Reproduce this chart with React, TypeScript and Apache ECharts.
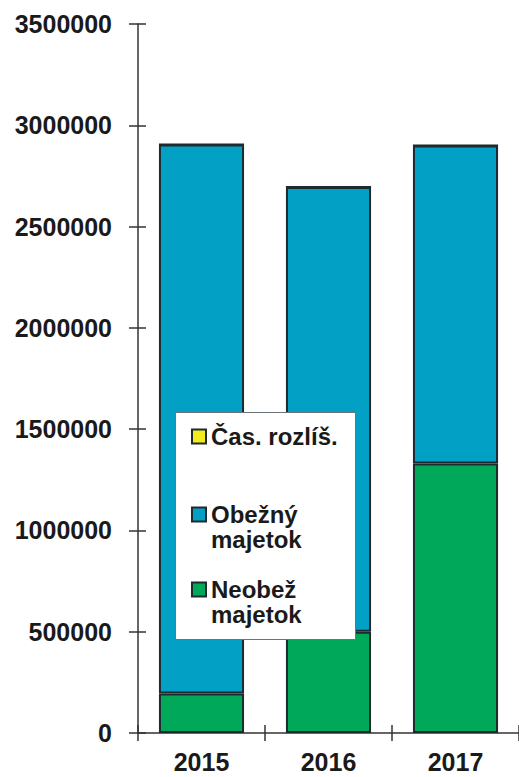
import React, { useEffect, useRef } from "react";
import * as echarts from "echarts";

const categories = ["2015", "2016", "2017"];
const neobezMajetok = [195000, 500000, 1330000];
const obeznyMajetok = [2710000, 2195000, 1570000];
const casRozlis = [0, 0, 0];
const yTicks = { min: 0, max: 3500000, interval: 500000 };

const FONT = "'Liberation Sans', Arial, Helvetica, sans-serif";
const TEXT = "#1a1a1a";
const LINE = "#333333";
const BORDER = "#1f2a2e";

export default function App() {
  const ref = useRef<HTMLDivElement>(null);

  useEffect(() => {
    document.body.style.margin = "0";
    if (!ref.current) return;
    const chart = echarts.init(ref.current, null, { renderer: "svg" });

    const legendText = {
      fontFamily: FONT,
      fontWeight: "bold" as const,
      fontSize: 24,
      color: TEXT,
      lineHeight: 25,
    };

    const legendCommon = {
      orient: "vertical" as const,
      icon: "rect",
      itemWidth: 14,
      itemHeight: 14,
      padding: 0,
      left: 191,
      z: 20,
      selectedMode: false,
      itemStyle: { borderColor: BORDER, borderWidth: 2 },
      textStyle: legendText,
    };

    chart.setOption({
      animation: false,
      backgroundColor: "#ffffff",
      grid: { left: 138, top: 24, width: 384, height: 709, containLabel: false },
      xAxis: [
        {
          type: "category",
          data: categories,
          axisLine: { show: true, lineStyle: { color: LINE, width: 1.5 } },
          axisTick: { show: true, length: 8, lineStyle: { color: LINE, width: 1.5 } },
          axisLabel: {
            fontFamily: FONT,
            fontWeight: "bold",
            fontSize: 25,
            color: TEXT,
            margin: 16,
          },
        },
        {
          type: "category",
          data: categories,
          position: "bottom",
          axisLine: { show: false },
          axisTick: { show: true, inside: true, length: 8, lineStyle: { color: LINE, width: 1.5 } },
          axisLabel: { show: false },
        },
      ],
      yAxis: [
        {
          type: "value",
          min: yTicks.min,
          max: yTicks.max,
          interval: yTicks.interval,
          splitLine: { show: false },
          axisLine: { show: true, lineStyle: { color: LINE, width: 1.5 } },
          axisTick: { show: true, length: 9, lineStyle: { color: LINE, width: 1.5 } },
          axisLabel: {
            fontFamily: FONT,
            fontWeight: "bold",
            fontSize: 25,
            color: TEXT,
            margin: 26,
            formatter: (v: number) => String(v),
          },
        },
        {
          type: "value",
          min: yTicks.min,
          max: yTicks.max,
          interval: yTicks.interval,
          position: "left",
          splitLine: { show: false },
          axisLine: { show: false },
          axisTick: { show: true, inside: true, length: 8, lineStyle: { color: LINE, width: 1.5 } },
          axisLabel: { show: false },
        },
      ],
      legend: [
        {
          ...legendCommon,
          top: 424,
          data: ["Čas. rozlíš."],
        },
        {
          ...legendCommon,
          top: 477,
          data: ["Obežný majetok"],
          formatter: () => " \nObežný\nmajetok",
        },
        {
          ...legendCommon,
          top: 552,
          data: ["Neobež majetok"],
          formatter: () => " \nNeobež\nmajetok",
        },
      ],
      graphic: [
        {
          type: "rect",
          z: 10,
          shape: { x: 175.5, y: 412.5, width: 180, height: 227 },
          style: { fill: "#ffffff", stroke: "#6b7478", lineWidth: 1 },
        },
      ],
      series: [
        {
          name: "Neobež majetok",
          type: "bar",
          stack: "total",
          barCategoryGap: "33%",
          data: neobezMajetok,
          itemStyle: { color: "#00a85a", borderColor: BORDER, borderWidth: 2 },
        },
        {
          name: "Obežný majetok",
          type: "bar",
          stack: "total",
          barCategoryGap: "33%",
          data: obeznyMajetok,
          itemStyle: { color: "#02a0c4", borderColor: BORDER, borderWidth: 2 },
        },
        {
          name: "Čas. rozlíš.",
          type: "bar",
          stack: "total",
          barCategoryGap: "33%",
          data: casRozlis,
          itemStyle: { color: "#f2ec1c", borderColor: BORDER, borderWidth: 2 },
        },
      ],
    });

    return () => chart.dispose();
  }, []);

  return <div ref={ref} style={{ width: 519, height: 777 }} />;
}
